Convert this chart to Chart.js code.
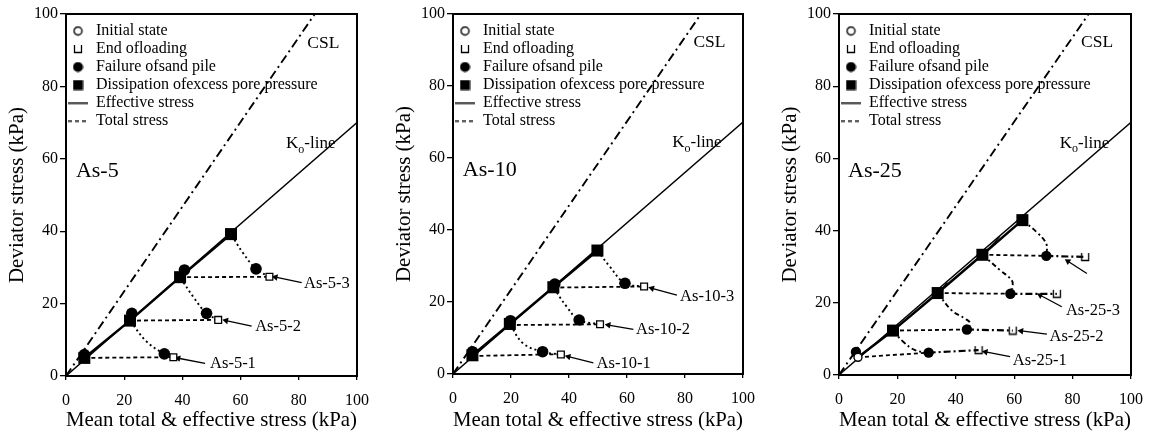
<!DOCTYPE html>
<html><head><meta charset="utf-8">
<script src="https://cdn.jsdelivr.net/npm/chart.js@4.4.0/dist/chart.umd.min.js"></script>
<style>
html,body{margin:0;padding:0;background:#fff;width:1150px;height:435px;overflow:hidden;}
.panel{position:absolute;top:0;height:435px;}
canvas{display:block;}
</style></head><body>
<div class="panel" style="left:0px;width:370px"><canvas id="c1" width="370" height="435"></canvas></div>
<div class="panel" style="left:387px;width:370px"><canvas id="c2" width="370" height="435"></canvas></div>
<div class="panel" style="left:773px;width:377px"><canvas id="c3" width="377" height="435"></canvas></div>
<script>
// ---------- shared axis data ----------
const xTickValues = [0, 20, 40, 60, 80, 100];
const yTickValues = [0, 20, 40, 60, 80, 100];
const xAxisTitle = 'Mean total & effective stress (kPa)';
const yAxisTitle = 'Deviator stress (kPa)';
const legendTexts = ['Initial state', 'End ofloading', 'Failure ofsand pile',
  'Dissipation ofexcess pore pressure', 'Effective stress', 'Total stress'];
const cslLine = [[0, 0], [85.5, 100]];
const k0Line = [[0, 0], [100, 70]];
const cslLabel = ['CSL', 82.9, 92];
const k0Label = ['K', 'o', '-line', 75.6, 64.2];

// ---------- As-5 ----------
const as5Name = ['As-5', 3.4, 56.5];
const as5Dissipation = [[6.3, 5.0], [22, 15.3], [39.2, 27.3], [56.7, 39.2]];
const as5Failure = [[6.3, 5.9], [22.6, 17.3], [40.7, 29.3], [33.8, 6.1], [48.3, 17.3], [65.3, 29.6]];
const as5EndLoading = [[36.9, 5.2], [52.3, 15.5], [69.9, 27.4]];
const as5Total = [[[6.3, 5.0], [36.9, 5.2]], [[22, 15.3], [52.3, 15.5]], [[39.2, 27.3], [69.9, 27.4]]];
const as5Effective = [
  [[36.9, 5.2], [33.8, 6.1], [27.7, 9.5], [22, 15.3]],
  [[52.3, 15.5], [48.3, 17.3], [43.7, 21.9], [39.2, 27.3]],
  [[69.9, 27.4], [65.3, 29.6], [60.9, 33.9], [56.7, 39.2]]];
const as5Labels = [['As-5-1', 49.5, 3.3], ['As-5-2', 65, 13.6], ['As-5-3', 81.8, 25.6]];
const as5Arrows = [[[47.8, 3.5], [38.6, 4.9]], [[63.8, 13.8], [55.0, 15.3]], [[81, 25.8], [72.0, 27.3]]];

// ---------- As-10 ----------
const as10Name = ['As-10', 3.4, 56.5];
const as10Dissipation = [[6.7, 5.2], [19.6, 13.9], [34.6, 24.1], [49.8, 34.3]];
const as10Failure = [[6.7, 6.2], [19.8, 14.8], [35.1, 25], [30.9, 6.2], [43.5, 15], [59.3, 25.2]];
const as10EndLoading = [[37.2, 5.4], [50.7, 13.8], [65.9, 24.3]];
const as10Total = [[[6.7, 5.0], [37.2, 5.5]], [[19.6, 13.6], [50.7, 13.8]], [[34.6, 24.0], [65.9, 24.3]]];
const as10Effective = [
  [[37.2, 5.4], [30.9, 6.2], [24.2, 8.5], [19.6, 13.9]],
  [[50.7, 13.8], [43.5, 15], [39.2, 18.7], [34.6, 24.1]],
  [[65.9, 24.3], [59.3, 25.2], [54.1, 29.8], [49.8, 34.3]]];
const as10Labels = [['As-10-1', 49.5, 3.0], ['As-10-2', 63.1, 12.2], ['As-10-3', 78.3, 21.5]];
const as10Arrows = [[[48.4, 3.1], [39.8, 4.8]], [[62.2, 12.4], [53.6, 13.6]], [[77.2, 21.9], [68.6, 23.8]]];

// ---------- As-25 ----------
const as25Name = ['As-25', 3.1, 56.5];
const as25Initial = [[6.5, 4.9]];
const as25Dissipation = [[18.5, 12.3], [33.8, 22.7], [49.1, 33.3], [62.8, 42.9]];
const as25Failure = [[5.8, 6.4], [30.7, 6.2], [43.8, 12.6], [58.7, 22.5], [71, 33.0]];
const as25EndLoading = [[47.8, 6.9], [59.5, 12.3], [74.6, 22.5], [84.3, 32.7]];
const as25Total = [[[6.5, 4.9], [30.7, 6.2]], [[18.5, 12.3], [43.8, 12.6]], [[33.8, 22.7], [58.7, 22.5]], [[49.1, 33.3], [71, 33.0]]];
const as25AfterFailure = [[[30.7, 6.2], [47.8, 6.9]], [[43.8, 12.6], [59.5, 12.3]], [[58.7, 22.5], [74.6, 22.5]], [[71, 33.0], [84.3, 32.7]]];
const as25Effective = [
  [[18.5, 12.3], [22, 9.2], [26, 6.9], [30.7, 6.2]],
  [[33.8, 22.7], [38.6, 17.9], [43.2, 15.6], [44.9, 14.3], [43.8, 12.6]],
  [[49.1, 33.3], [55.2, 29], [59.2, 26.2], [59.4, 24.3], [58.7, 22.5]],
  [[62.8, 42.9], [67.8, 39.5], [71, 36.3], [71, 33.0]]];
const as25Loops = [[[33.8, 22.7], [37.0, 25.6], [35.0, 23.3]], [[49.1, 33.3], [55.0, 38.3], [51.0, 34.4]]];
const as25Labels = [['As-25-1', 59.5, 4.1], ['As-25-2', 72.1, 10.6], ['As-25-3', 77.7, 17.9]];
const as25Arrows = [[[58.6, 5.1], [50.2, 6.4]], [[71.2, 11.3], [62.4, 12.2]], [[76.3, 18.9], [68.9, 22.1]], [[84.9, 28.1], [78.4, 31.5]]];

// ---------- helpers ----------
const FONT = "'Liberation Serif', 'Times New Roman', serif";
const BLACK = '#000';
function pts(arr) { return arr.map(p => ({ x: p[0], y: p[1] })); }

function icon(kind) {
  const c = document.createElement('canvas');
  const g = c.getContext('2d');
  if (kind === 'openCircle') {
    c.width = 11; c.height = 11;
    g.beginPath(); g.arc(5.5, 5.5, 4, 0, Math.PI * 2);
    g.fillStyle = '#fff'; g.fill(); g.lineWidth = 1.4; g.strokeStyle = BLACK; g.stroke();
  } else if (kind === 'U') {
    c.width = 10; c.height = 10;
    g.beginPath(); g.moveTo(1.5, 1); g.lineTo(1.5, 8.5); g.lineTo(8.5, 8.5); g.lineTo(8.5, 1);
    g.lineWidth = 1.3; g.strokeStyle = BLACK; g.stroke();
  } else if (kind === 'dot') {
    c.width = 11; c.height = 11;
    g.beginPath(); g.arc(5.5, 5.5, 5, 0, Math.PI * 2); g.fillStyle = BLACK; g.fill();
  } else if (kind === 'square') {
    c.width = 11; c.height = 11;
    g.fillStyle = BLACK; g.fillRect(0.5, 0.5, 10, 10);
  } else if (kind === 'solid' || kind === 'dashed') {
    c.width = 20; c.height = 3;
    g.beginPath(); g.moveTo(0, 1.5); g.lineTo(20, 1.5);
    if (kind === 'dashed') g.setLineDash([4, 3]);
    g.lineWidth = 1.6; g.strokeStyle = BLACK; g.stroke();
  }
  return c;
}
const legendIcons = ['openCircle', 'U', 'dot', 'square', 'solid', 'dashed'].map(icon);
const uMarker = icon('U');

function arrowRotation(ctx) {
  const d = ctx.dataset.data, ch = ctx.chart;
  const xs = ch.scales.x, ys = ch.scales.y;
  const dx = xs.getPixelForValue(d[1].x) - xs.getPixelForValue(d[0].x);
  const dy = ys.getPixelForValue(d[1].y) - ys.getPixelForValue(d[0].y);
  return Math.atan2(dx, -dy) * 180 / Math.PI;
}

const framePlugin = {
  id: 'frame',
  afterDatasetsDraw(chart) {
    const { ctx, chartArea: a } = chart;
    ctx.save();
    ctx.strokeStyle = BLACK; ctx.lineWidth = 2;
    ctx.strokeRect(a.left, a.top, a.right - a.left, a.bottom - a.top);
    ctx.restore();
  }
};

const textPlugin = {
  id: 'panelText',
  afterDatasetsDraw(chart, args, opts) {
    const { ctx } = chart;
    const xs = chart.scales.x, ys = chart.scales.y;
    ctx.save();
    ctx.fillStyle = BLACK;
    ctx.textBaseline = 'middle';
    ctx.textAlign = 'left';
    (opts.items || []).forEach(t => {
      ctx.font = t.size + 'px ' + FONT;
      ctx.fillText(t.text, xs.getPixelForValue(t.x), ys.getPixelForValue(t.y));
    });
    if (opts.k0) {
      const [k, sub, rest, kx, ky] = opts.k0;
      let px = xs.getPixelForValue(kx); const py = ys.getPixelForValue(ky);
      ctx.font = '17px ' + FONT; ctx.fillText(k, px, py); px += ctx.measureText(k).width;
      ctx.font = '12px ' + FONT; ctx.fillText(sub, px, py + 6); px += ctx.measureText(sub).width;
      ctx.font = '17px ' + FONT; ctx.fillText(rest, px, py);
    }
    ctx.restore();
  }
};

function lineDs(points, opt) {
  return Object.assign({ data: pts(points), showLine: true, pointRadius: 0, borderColor: BLACK,
    backgroundColor: BLACK, fill: false, order: 5, tension: 0 }, opt);
}

function buildPanel(id, P, xAxisHeight, padRight) {
  const ds = [];
  // markers
  if (P.initial) ds.push({ data: pts(P.initial), showLine: false, pointStyle: 'circle', pointRadius: 4,
    pointBackgroundColor: '#fff', pointBorderColor: BLACK, pointBorderWidth: 1.4, order: 0 });
  ds.push({ data: pts(P.failure), showLine: false, pointStyle: 'circle', pointRadius: P.circleR,
    pointBackgroundColor: BLACK, pointBorderColor: BLACK, pointBorderWidth: 0, order: 0 });
  ds.push({ data: pts(P.dissipation), showLine: false, pointStyle: 'rect', pointRadius: 8.5,
    pointBackgroundColor: BLACK, pointBorderColor: BLACK, pointBorderWidth: 0, order: 1 });
  if (P.endU) ds.push({ data: pts(P.end), showLine: false, pointStyle: uMarker, order: 0 });
  else ds.push({ data: pts(P.end), showLine: false, pointStyle: 'rect', pointRadius: 4.8,
    pointBackgroundColor: '#fff', pointBorderColor: BLACK, pointBorderWidth: 1.3, order: 0 });
  // reference lines
  ds.push(lineDs(cslLine, { borderWidth: 1.9, borderDash: [9, 4, 2, 4] }));
  ds.push(lineDs(k0Line, { borderWidth: 1.4 }));
  ds.push(lineDs((P.initial || []).concat(P.dissipation), { borderWidth: 2.5 }));
  P.total.forEach(s => ds.push(lineDs(s, { borderWidth: 1.8, borderDash: [4, 3] })));
  P.effective.forEach(s => ds.push(lineDs(s, { borderWidth: 1.9, borderDash: P.effDash, tension: 0.4 })));
  (P.after || []).forEach(s => ds.push(lineDs(s, { borderWidth: 2.2, borderDash: [7, 3, 2, 3] })));
  (P.loops || []).forEach(s => ds.push(lineDs(s, { borderWidth: 1 })));
  P.arrows.forEach(s => ds.push(lineDs(s, { borderWidth: 1.3, pointStyle: 'triangle',
    pointRadius: [0, 3.8], pointBackgroundColor: BLACK, pointBorderColor: BLACK, pointBorderWidth: 0,
    pointRotation: arrowRotation })));

  const items = [];
  items.push({ text: P.name[0], x: P.name[1], y: P.name[2], size: 22 });
  items.push({ text: cslLabel[0], x: cslLabel[1], y: cslLabel[2], size: 17.5 });
  P.labels.forEach(l => items.push({ text: l[0], x: l[1], y: l[2], size: 16.5 }));

  const tickFont = { family: FONT, size: 16 };
  const titleFont = { family: FONT, size: 21 };
  return new Chart(document.getElementById(id), {
    type: 'scatter',
    data: { datasets: ds },
    options: {
      responsive: false, animation: false, events: [],
      layout: { padding: { left: 0, right: padRight, top: 14, bottom: 0 } },
      scales: {
        x: {
          type: 'linear', min: 0, max: 100,
          afterBuildTicks: s => { s.ticks = xTickValues.map(v => ({ value: v })); },
          ticks: { font: tickFont, color: BLACK, padding: 11, maxRotation: 0 },
          grid: { drawOnChartArea: false, drawTicks: true, tickLength: 4, color: BLACK, lineWidth: 1.3 },
          border: { display: true, color: BLACK, width: 2 },
          title: { display: true, text: xAxisTitle, font: titleFont, color: BLACK, padding: { top: 0, bottom: 1.5 } },
          afterFit: s => { s.height = xAxisHeight; s.paddingLeft = 0; s.paddingRight = 0; }
        },
        y: {
          type: 'linear', min: 0, max: 100,
          afterBuildTicks: s => { s.ticks = yTickValues.map(v => ({ value: v })); },
          ticks: { font: tickFont, color: BLACK, padding: 2 },
          grid: { drawOnChartArea: false, drawTicks: true, tickLength: 6, color: BLACK, lineWidth: 1.3 },
          border: { display: true, color: BLACK, width: 2 },
          title: { display: true, text: yAxisTitle, font: titleFont, color: BLACK, padding: { top: 5, bottom: 0 } },
          afterFit: s => { s.width = 66; s.paddingTop = 0; s.paddingBottom = 0; }
        }
      },
      plugins: {
        tooltip: { enabled: false },
        legend: {
          display: true, position: 'chartArea', align: 'start', onClick: null,
          title: { display: true, text: ' ', font: { size: 1, lineHeight: 1 }, padding: { top: 0, bottom: 20 } },
          labels: {
            usePointStyle: true, pointStyleWidth: 20, padding: 2, color: BLACK,
            font: { family: FONT, size: 16 },
            generateLabels: () => legendTexts.map((t, i) => ({
              text: t, pointStyle: legendIcons[i], fillStyle: BLACK, strokeStyle: BLACK,
              lineWidth: 0, hidden: false, fontColor: BLACK, datasetIndex: 0
            }))
          }
        },
        panelText: { items: items, k0: k0Label }
      }
    },
    plugins: [framePlugin, textPlugin]
  });
}

buildPanel('c1', { name: as5Name, dissipation: as5Dissipation, failure: as5Failure, end: as5EndLoading,
  total: as5Total, effective: as5Effective, effDash: [2, 3], labels: as5Labels, arrows: as5Arrows, circleR: 5.8 }, 59, 13);
buildPanel('c2', { name: as10Name, dissipation: as10Dissipation, failure: as10Failure, end: as10EndLoading,
  total: as10Total, effective: as10Effective, effDash: [2, 3], labels: as10Labels, arrows: as10Arrows, circleR: 5.8 }, 61, 14);
buildPanel('c3', { name: as25Name, initial: as25Initial, dissipation: as25Dissipation, failure: as25Failure,
  end: as25EndLoading, endU: true, total: as25Total, effective: as25Effective, effDash: [5, 3, 2, 3],
  after: as25AfterFailure, loops: as25Loops, labels: as25Labels, arrows: as25Arrows, circleR: 5.2 }, 60, 19);
</script>
</body></html>
